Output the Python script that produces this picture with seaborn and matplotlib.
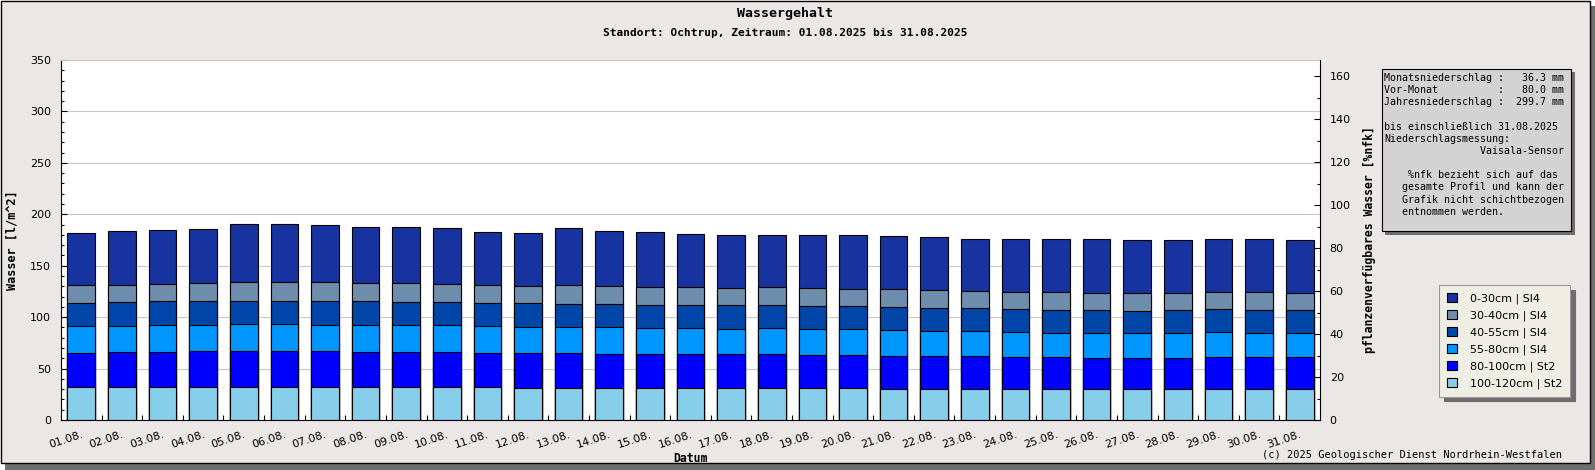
import numpy as np
import pandas as pd
import seaborn as sns
import matplotlib.pyplot as plt
from matplotlib.patches import Rectangle
from matplotlib.ticker import MultipleLocator

# data (l/m^2 per layer, bottom to top)
days = [f"{d:02d}.08." for d in range(1, 32)]
l_100_120 = [32.4, 32.4, 32.4, 32.4, 32.4, 32.4, 32.4, 32.4, 32.4, 32.4,
             32.4, 31.4, 31.4, 31.4, 31.4, 31.4, 31.4, 31.4, 31.4, 31.4,
             30.5, 30.5, 30.5, 30.5, 29.8, 29.8, 29.8, 29.8, 30.5, 29.8, 29.8]
l_80_100 = [32.8, 33.4, 33.4, 34.4, 34.4, 34.4, 34.4, 33.4, 33.4, 33.4,
            32.8, 33.8, 33.8, 32.8, 32.8, 32.8, 32.8, 32.8, 31.8, 31.8,
            31.7, 31.7, 31.7, 30.8, 31.5, 30.5, 30.5, 30.5, 30.8, 31.5, 31.5]
l_55_80 = [25.9, 25.3, 26.3, 25.3, 26.2, 26.2, 25.3, 26.3, 26.3, 26.3,
           25.9, 24.9, 24.9, 25.9, 24.9, 24.9, 24.0, 24.9, 25.0, 25.0,
           25.0, 24.0, 24.0, 24.0, 23.0, 24.0, 24.0, 24.0, 24.0, 23.0, 23.0]
l_40_55 = [22.4, 23.3, 23.3, 23.3, 22.4, 22.4, 23.3, 23.3, 22.3, 22.3,
           22.4, 23.4, 22.4, 22.4, 22.4, 22.4, 23.3, 22.4, 22.3, 22.3,
           22.4, 22.4, 22.4, 22.3, 22.3, 22.3, 21.4, 22.3, 22.3, 22.3, 22.3]
l_30_40 = [17.5, 16.6, 16.5, 17.5, 18.5, 18.5, 18.5, 17.5, 18.5, 17.5,
           17.5, 16.5, 18.5, 17.5, 17.5, 17.5, 16.5, 17.5, 17.5, 16.6,
           17.5, 17.5, 16.5, 16.5, 17.5, 16.6, 17.5, 16.6, 16.5, 17.5, 16.6]
l_0_30 = [50.8, 52.5, 52.5, 52.5, 56.4, 56.4, 55.4, 54.5, 54.5, 54.5,
          51.5, 51.5, 55.4, 53.5, 53.5, 51.6, 51.6, 50.6, 51.6, 52.5,
          51.5, 51.5, 50.6, 51.6, 51.6, 52.5, 51.5, 51.5, 51.6, 51.6, 51.5]

layer_names = ["100-120cm | St2", "80-100cm | St2", "55-80cm | Sl4",
               "40-55cm | Sl4", "30-40cm | Sl4", "0-30cm | Sl4"]
layer_colors = ["#87CEEB", "#0000FF", "#0096FF", "#0046A8", "#6E8CAB", "#1733A0"]

info_lines = [
    "Monatsniederschlag :   36.3 mm",
    "Vor-Monat          :   80.0 mm",
    "Jahresniederschlag :  299.7 mm",
    "",
    "bis einschließlich 31.08.2025",
    "Niederschlagsmessung:",
    "                Vaisala-Sensor",
    "",
    "    %nfk bezieht sich auf das",
    "   gesamte Profil und kann der",
    "   Grafik nicht schichtbezogen",
    "   entnommen werden.",
]

df = pd.DataFrame(dict(zip(layer_names,
                           [l_100_120, l_80_100, l_55_80, l_40_55, l_30_40, l_0_30])))
cum = df.cumsum(axis=1)
cum["Datum"] = days

W, H = 1595, 470
mono = "DejaVu Sans Mono"
plt.rcParams["font.family"] = "DejaVu Sans"

fig = plt.figure(figsize=(W / 100, H / 100), dpi=100, facecolor="white")

# outer frame with shadow
fig.patches.append(Rectangle((5 / W, 0), 1590 / W, 464 / H, transform=fig.transFigure,
                             facecolor="#6E6E6E", edgecolor="none", zorder=-10))
fig.patches.append(Rectangle((1 / W, 7 / H), 1589 / W, 462 / H, transform=fig.transFigure,
                             facecolor="#EBE7E6", edgecolor="black", lw=1, zorder=-9))

ax = fig.add_axes([61 / W, 50 / H, 1259 / W, 360 / H])
ax.set_facecolor("white")

# stacked bars: draw cumulative totals tallest first
for name, color in zip(layer_names[::-1], layer_colors[::-1]):
    sns.barplot(data=cum, x="Datum", y=name, color=color, saturation=1, width=0.68,
                edgecolor="black", linewidth=0.8, errorbar=None, label=name, ax=ax)

ax.set_ylim(0, 350)
ax.set_xlim(-0.5, len(days) - 0.5)
ax.yaxis.set_major_locator(MultipleLocator(50))
ax.yaxis.set_minor_locator(MultipleLocator(10))
ax.grid(axis="y", which="major", color="#C8C8C8", lw=0.8)
ax.grid(axis="x", visible=False)
ax.set_axisbelow(True)
for s in ["left", "bottom"]:
    ax.spines[s].set_color("black")
    ax.spines[s].set_linewidth(0.8)
ax.spines["top"].set_color("#C8C8C8")
ax.spines["top"].set_linewidth(0.8)
ax.spines["right"].set_visible(False)

ax.tick_params(axis="y", which="major", direction="in", length=4, width=0.8,
               labelsize=8, pad=7)
ax.tick_params(axis="y", which="minor", direction="in", length=2.5, width=0.8)
ax.set_xticks(np.arange(len(days) - 1) + 0.5, minor=True)
ax.tick_params(axis="x", which="major", length=0, labelsize=8, pad=7)
ax.tick_params(axis="x", which="minor", direction="in", length=3.5, width=0.8)
for lbl in ax.get_xticklabels():
    lbl.set_rotation(18)
    lbl.set_ha("right")
    lbl.set_va("top")
    lbl.set_rotation_mode("anchor")

ax.set_ylabel("Wasser [l/m^2]", fontfamily=mono, fontweight="bold", fontsize=8.5)
ax.yaxis.set_label_coords(-0.034, 0.5)
ax.set_xlabel("Datum", fontfamily=mono, fontweight="bold", fontsize=8.3)
ax.xaxis.set_label_coords(0.5, -0.088)

ax2 = ax.twinx()
ax2.set_ylim(0, 167.5)
ax2.yaxis.set_major_locator(MultipleLocator(20))
ax2.yaxis.set_minor_locator(MultipleLocator(10))
ax2.tick_params(axis="y", which="major", direction="in", length=4, width=0.8,
                labelsize=8, pad=7)
ax2.tick_params(axis="y", which="minor", direction="in", length=2.5, width=0.8)
for s in ["top", "left", "bottom"]:
    ax2.spines[s].set_visible(False)
ax2.spines["right"].set_color("black")
ax2.spines["right"].set_linewidth(0.8)
ax2.set_ylabel("pflanzenverfügbares Wasser [%nfk]", fontfamily=mono,
               fontweight="bold", fontsize=8.3)
ax2.yaxis.set_label_coords(1.034, 0.5)

leg = ax.legend(loc="upper left", bbox_to_anchor=(1439 / W, 1 - 285 / H),
                bbox_transform=fig.transFigure, borderaxespad=0, fontsize=8,
                fancybox=False, facecolor="#EEEEE4", edgecolor="#9A9A9A", framealpha=1,
                handlelength=0.9, handleheight=0.9, handletextpad=1.2, borderpad=0.7,
                labelspacing=0.55,
                shadow={"ox": 3.3, "oy": -3.3, "color": "#6E6E6E", "alpha": 1})
leg.get_frame().set_linewidth(0.8)

# info box with shadow
fig.patches.append(Rectangle((1385 / W, 1 - 235 / H), 190 / W, 163 / H,
                             transform=fig.transFigure, facecolor="#6E6E6E",
                             edgecolor="none", zorder=1))
fig.patches.append(Rectangle((1382 / W, 1 - 231 / H), 189 / W, 162 / H,
                             transform=fig.transFigure, facecolor="#D3D3D3",
                             edgecolor="black", lw=0.8, zorder=2))
fig.text(1384 / W, 1 - 73 / H, "\n".join(info_lines), ha="left", va="top",
         fontfamily=mono, fontsize=7.2, linespacing=1.27, zorder=3)

fig.text(785 / W, 1 - 14 / H, "Wassergehalt", ha="center", va="center",
         fontfamily=mono, fontweight="bold", fontsize=9.5)
fig.text(785 / W, 1 - 33 / H,
         "Standort: Ochtrup, Zeitraum: 01.08.2025 bis 31.08.2025",
         ha="center", va="center", fontfamily=mono, fontweight="bold", fontsize=8.0)
fig.text(1562 / W, 1 - 455 / H, "(c) 2025 Geologischer Dienst Nordrhein-Westfalen",
         ha="right", va="center", fontfamily=mono, fontsize=7.5)

fig.savefig("out.png", dpi=100, facecolor=fig.get_facecolor())
